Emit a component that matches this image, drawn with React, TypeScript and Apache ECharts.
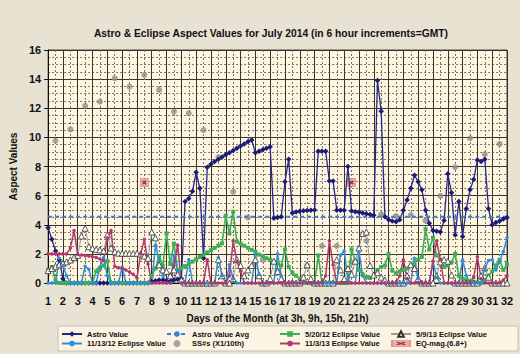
import React, { useEffect, useRef } from "react";
import * as echarts from "echarts";

// 4 readings per day (3h, 9h, 15h, 21h), day 1 .. day 32
const stepsPerDay = 4;
const firstDay = 1;
const lastDay = 32;

const astroValue = [
  3.8, 3.0, 2.2, 1.6,
  0.3, 0, 0, 0,
  0, 0, 0, 0,
  0, 0, 0, 0,
  0, 0, 0, 0,
  0, 0, 0, 0,
  0, 0, 0, 0,
  0.1, 0.15, 0.2, 0.2,
  0.15, 0.1, 0.2, 0.25,
  0.3, 5.6, 5.8, 6.3,
  7.6, 6.5, 1.7, 7.95,
  8.15, 8.35, 8.5, 8.65,
  8.8, 8.95, 9.1, 9.25,
  9.4, 9.55, 9.7, 9.82,
  8.95, 9.05, 9.15, 9.25,
  9.35, 4.45, 4.5, 4.55,
  6.95, 8.5, 4.8, 4.88,
  4.93, 4.96, 4.98, 5.0,
  5.02, 9.05, 9.05, 9.05,
  7.0, 7.0, 5.0, 5.0,
  5.0, 8.0, 4.95, 4.9,
  4.85, 4.8, 4.75, 4.7,
  4.65, 13.9, 11.8, 4.55,
  4.35, 4.25, 4.2, 4.35,
  5.0, 5.7, 6.5, 7.4,
  6.95, 6.4, 5.0, 4.1,
  3.6, 3.55, 3.5, 4.3,
  7.5, 6.2, 3.3, 5.6,
  3.2, 5.1, 6.4, 7.1,
  8.45, 8.35, 8.5, 5.1,
  4.0, 4.15, 4.25, 4.4,
  4.5,
];

const astroValueAvg = 4.55;

const eclipse52012 = [
  0.9, 1.1, 0.2, 0,
  0, 0, 0, 0,
  0, 0, 0, 0,
  0, 0.8, 1.0, 1.2,
  1.5, 0, 0, 0,
  0, 0, 0, 0,
  0, 0, 0, 0,
  0.5, 1.0, 1.8, 1.2,
  3.4, 1.3, 2.7, 0.9,
  1.0, 1.16, 1.31, 1.47,
  1.63, 1.78, 1.94, 2.1,
  2.25, 2.41, 2.57, 2.72,
  4.62, 3.4, 4.9, 2.84,
  2.7, 2.56, 2.42, 2.28,
  2.14, 1.95, 1.85, 1.7,
  1.6, 1.45, 1.3, 1.2,
  2.3, 1.1, 0.7, 0.5,
  0.3, 0.1, 0, 0,
  0, 1.9, 0, 0,
  0, 0, 0, 0,
  0, 0, 2.3, 1.5,
  0.9, 0.6, 0.4, 0.35,
  0.5, 0.9, 1.1, 1.2,
  2.0, 0.85, 0.65, 0.8,
  0.9, 1.0, 1.2, 1.4,
  1.6, 1.8, 3.7, 2.3,
  3.1, 1.9, 1.6, 1.1,
  1.2, 1.4, 2.0, 0.5,
  0.3, 0.2, 0.1, 0.1,
  0, 0, 0.2, 0.5,
  0.8, 1.2, 1.6, 0.9,
  1.3,
];

const eclipse5913 = [
  0.85, 1.0, 1.15, 1.25,
  1.35, 1.45, 1.58, 1.76,
  1.9, 3.23, 3.76, 2.5,
  2.38, 2.31, 2.27, 2.2,
  3.3, 2.4, 2.15, 2.05,
  2.04, 2.04, 2.04, 2.04,
  2.04, 2.0, 1.85, 1.7,
  3.5, 3.1, 1.25, 0.9,
  0.8, 0.5, 0.9, 0.6,
  0.2, 0, 0, 0,
  0, 0, 0, 0,
  0, 0, 1.6, 0.5,
  0, 0, 0.3, 1.6,
  1.2, 0.5, 0.9, 1.2,
  1.6, 0.5, 0, 0,
  0.3, 1.5, 0.8, 0.3,
  0, 0, 0, 0,
  0, 0.4, 1.25, 0.3,
  0, 0, 0, 0,
  0, 0, 1.6, 0.9,
  0.3, 1.0, 0.6, 1.5,
  2.4, 3.4, 3.5, 1.2,
  0.55, 0.7, 0.4, 0.2,
  0, 0, 0, 0,
  0, 0.5, 1.25, 1.0,
  0.3, 0, 0, 0,
  0, 0.5, 1.45, 1.6,
  1.5, 0.55, 0, 0,
  0, 0, 0, 0,
  0, 0.5, 1.05, 0.4,
  0, 0, 0, 0,
  0,
];

const eclipse111312 = [
  0, 0, 0, 1.7,
  1.2, 0.5, 0, 0,
  0, 0, 1.15, 0.95,
  0, 0, 1.1, 1.75,
  0.5, 0, 0, 0,
  1.1, 0, 0, 0,
  0, 0, 0, 0,
  0, 2.6, 1.6, 0.5,
  0, 0, 1.9, 0.9,
  0, 0, 1.6, 0,
  0, 0, 0, 0,
  0, 0, 1.75, 0.5,
  0, 1.25, 0.3, 0,
  0, 0, 0, 0,
  1.9, 0.6, 0, 0,
  0, 0, 2.0, 0.5,
  0, 0, 0, 0,
  0, 0, 0, 0,
  0, 0, 0, 0,
  0, 0, 0, 1.9,
  2.2, 0.3, 0, 0,
  2.15, 0.5, 0, 0,
  0, 0, 0, 0,
  0, 0, 0, 0,
  0, 0, 0, 1.7,
  0.3, 0, 0, 0,
  1.5, 0.4, 0, 0,
  0, 0, 0, 0,
  1.6, 0.5, 0, 0,
  0, 0, 1.0, 1.55,
  1.6, 0.9, 1.5, 2.15,
  3.1,
];

const eclipse11313 = [
  2.0, 2.0, 2.0, 2.0,
  2.0, 2.0, 2.4, 3.6,
  1.95, 1.92, 1.88, 1.85,
  1.8, 1.75, 1.65, 1.55,
  3.1, 3.6, 1.15, 1.05,
  1.0, 0.9, 0.75, 0.6,
  0.35, 2.0, 3.0, 1.3,
  0, 0, 0, 0,
  0, 0, 1.2, 2.6,
  0, 0, 0, 0,
  0, 0, 0, 1.6,
  0, 0, 0, 0,
  0, 0.5, 2.9, 1.5,
  0.8, 0, 0, 0,
  0, 0, 0, 0,
  0, 0, 0, 0,
  0, 0, 0, 0,
  0, 0, 0, 0,
  0, 0, 0, 0.5,
  2.9, 1.25, 0, 0,
  0, 0, 0, 0,
  0, 0, 0, 0,
  0, 0, 0, 0,
  0, 0, 0, 0.5,
  1.6, 0.3, 0, 0,
  0, 0, 0, 0,
  1.5, 2.9, 1.6, 0,
  0, 0, 0, 0,
  0, 0, 0, 0.4,
  1.8, 0.3, 0, 0,
  0, 0, 0, 0.2,
  0.5,
];

// Sunspot numbers (x 1/10th), one per day, plotted at mid-day
const ssNumbers = [
  9.77, 10.55, 12.16, 12.45, 14.06, 13.48, 14.29, 13.26, 11.77, 11.65,
  10.5, 8.63, 6.27, 4.5, 1.6, 0.85, 0, 1.2, 2.54, 2.54,
  1.4, 2.9, 4.72, 4.6, 4.67, 4.28, 5.98, 7.95, 9.94, 8.84,
  9.55,
];

const eqDays = [7.5, 21.5];
const eqMag = [6.9, 6.9];

const FONT = "'Liberation Sans', Arial, sans-serif";

const toXY = (vals: number[]) => vals.map((v, i) => [firstDay + i / stepsPerDay, v]);

const eqSvg =
  "<svg xmlns='http://www.w3.org/2000/svg' width='10' height='10'>" +
  "<rect x='0.5' y='0.5' width='9' height='9' fill='#f29a9a' stroke='#e07a7a'/>" +
  "<path d='M3 3L7 7M7 3L3 7' stroke='#6a1a1a' stroke-width='1.4'/></svg>";
const eqSymbol = "image://data:image/svg+xml;utf8," + encodeURIComponent(eqSvg);

export default function App() {
  const ref = useRef<HTMLDivElement>(null);

  useEffect(() => {
    if (!ref.current) return;
    const chart = echarts.init(ref.current, undefined, { renderer: "svg" });

    const legendCommon = {
      orient: "vertical",
      itemWidth: 20,
      itemHeight: 7,
      itemGap: 1.5,
      padding: 0,
      textStyle: { fontSize: 7.5, fontWeight: "bold", fontFamily: FONT, color: "#111", lineHeight: 8 },
    };

    chart.setOption({
      animation: false,
      backgroundColor: "#e8e2d3",
      title: {
        text: "Astro & Eclipse Aspect Values for July 2014 (in 6 hour increments=GMT)",
        left: 266,
        top: 23,
        textAlign: "center",
        textStyle: { fontSize: 10.3, fontWeight: "bold", fontFamily: FONT, color: "#111" },
      },
      graphic: [
        {
          type: "rect",
          z: 0,
          shape: { x: 58, y: 326, width: 460, height: 25 },
          style: { fill: "#fbf4e2", stroke: "#c8c0ae", lineWidth: 1 },
        },
      ],
      legend: [
        { ...legendCommon, left: 61, top: 330, data: ["Astro Value", "11/13/12 Eclipse Value"] },
        { ...legendCommon, left: 166, top: 330, data: ["Astro Value Avg", "SS#s (X1/10th)"] },
        { ...legendCommon, left: 279, top: 330, data: ["5/20/12 Eclipse Value", "11/3/13 Eclipse Value"] },
        { ...legendCommon, left: 390, top: 330, data: ["5/9/13 Eclipse Value", "EQ-mag.(6.8+)"] },
      ],
      grid: {
        left: 46,
        top: 50,
        width: 461,
        height: 233,
        show: true,
        backgroundColor: "#fdf5e0",
        borderColor: "#444",
        borderWidth: 1,
      },
      xAxis: {
        type: "value",
        min: firstDay,
        max: lastDay,
        interval: 1,
        name: "Days of the Month (at 3h, 9h, 15h, 21h)",
        nameLocation: "middle",
        nameGap: 30,
        nameTextStyle: { fontSize: 10, fontWeight: "bold", fontFamily: FONT, color: "#111" },
        axisLine: { show: true, onZero: false, lineStyle: { color: "#111", width: 1 } },
        axisTick: { show: false },
        axisLabel: { fontSize: 11, fontWeight: "bold", fontFamily: FONT, color: "#111", margin: 12 },
        splitLine: { show: true, lineStyle: { color: "#3a352c", width: 1 } },
        minorTick: { show: false, splitNumber: 2 },
        minorSplitLine: { show: true, lineStyle: { color: "#7a7264", width: 1, type: [2, 2] } },
      },
      yAxis: {
        type: "value",
        min: 0,
        max: 16,
        interval: 2,
        name: "Aspect Values",
        nameLocation: "middle",
        nameGap: 25,
        nameTextStyle: { fontSize: 10, fontWeight: "bold", fontFamily: FONT, color: "#111" },
        axisLine: { show: true, lineStyle: { color: "#111", width: 1 } },
        axisTick: { show: true, length: 4, lineStyle: { color: "#111" } },
        axisLabel: { fontSize: 11, fontWeight: "bold", fontFamily: FONT, color: "#111", margin: 7 },
        splitLine: { show: true, lineStyle: { color: "#3a352c", width: 1 } },
        minorTick: { show: false, splitNumber: 4 },
        minorSplitLine: { show: true, lineStyle: { color: "#7a7264", width: 1, type: [2, 2] } },
      },
      series: [
        {
          name: "Astro Value",
          type: "line",
          data: toXY(astroValue),
          symbol: "diamond",
          symbolSize: 5.5,
          lineStyle: { color: "#27278a", width: 1.3 },
          itemStyle: { color: "#1a1a78" },
        },
        {
          name: "Astro Value Avg",
          type: "line",
          data: [
            [firstDay, astroValueAvg],
            [lastDay, astroValueAvg],
          ],
          symbol: "none",
          lineStyle: { color: "#3a7fd2", width: 2, type: [4, 3] },
          itemStyle: { color: "#3a7fd2" },
        },
        {
          name: "5/20/12 Eclipse Value",
          type: "line",
          data: toXY(eclipse52012),
          symbol: "rect",
          symbolSize: 4,
          lineStyle: { color: "#3cae55", width: 1.6 },
          itemStyle: { color: "#3cae55" },
        },
        {
          name: "5/9/13 Eclipse Value",
          type: "line",
          data: toXY(eclipse5913),
          symbol: "triangle",
          symbolSize: 6,
          lineStyle: { color: "#9a9a9a", width: 1 },
          itemStyle: { color: "#ffffff", borderColor: "#333", borderWidth: 0.8 },
        },
        {
          name: "11/13/12 Eclipse Value",
          type: "line",
          data: toXY(eclipse111312),
          symbol: "circle",
          symbolSize: 3.5,
          lineStyle: { color: "#2a8fe0", width: 1.5 },
          itemStyle: { color: "#2a8fe0" },
        },
        {
          name: "SS#s (X1/10th)",
          type: "scatter",
          data: ssNumbers.map((v, i) => [firstDay + i + 0.5, v]),
          symbol: "circle",
          symbolSize: 6,
          itemStyle: { color: "#8e8e8e" },
        },
        {
          name: "11/3/13 Eclipse Value",
          type: "line",
          data: toXY(eclipse11313),
          symbol: "circle",
          symbolSize: 3.5,
          lineStyle: { color: "#b3366f", width: 1.5 },
          itemStyle: { color: "#b3366f" },
        },
        {
          name: "EQ-mag.(6.8+)",
          type: "scatter",
          data: eqDays.map((d, i) => [d, eqMag[i]]),
          symbol: eqSymbol,
          symbolSize: 9,
          symbolKeepAspect: true,
          itemStyle: { color: "#f29a9a" },
        },
      ],
    });

    return () => chart.dispose();
  }, []);

  return (
    <div
      ref={ref}
      style={{ position: "fixed", left: 0, top: 0, width: 520, height: 354 }}
    />
  );
}
